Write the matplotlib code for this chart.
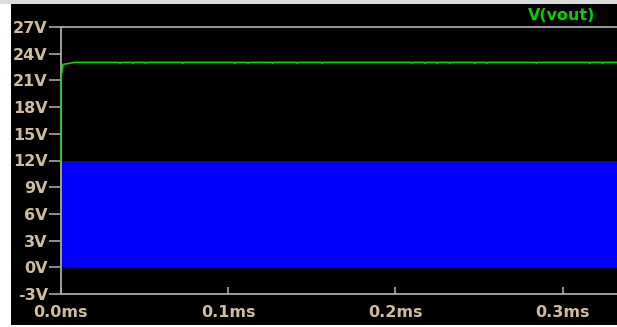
import matplotlib.pyplot as plt
from matplotlib.patches import Rectangle

# time axis in ms, voltages in V
sw_t = [0.0, 0.3325]
sw_low = [0.0, 0.0]
sw_high = [12.0, 12.0]

# V(vout) start-up, then regulated level with small ripple notches
vout_start_t = [0.0, 0.0, 0.0012, 0.0084]
vout_start_v = [12.0, 21.2, 22.8, 23.03]
vout_level = 23.03
vout_notch = 22.92
notch_t = [0.0353, 0.0429, 0.0506, 0.0727, 0.1040, 0.1118, 0.1265, 0.1412,
           0.1562, 0.2100, 0.2176, 0.2249, 0.2325, 0.2475, 0.2545, 0.2843,
           0.3162, 0.3238]
t_end = 0.3325

yticks = [-3, 0, 3, 6, 9, 12, 15, 18, 21, 24, 27]
xticks = [0.0, 0.1, 0.2, 0.3]
xlabels = ["0.0ms", "0.1ms", "0.2ms", "0.3ms"]

t = list(vout_start_t)
v = list(vout_start_v)
for tn in notch_t:
    t += [tn - 0.0005, tn, tn + 0.0005]
    v += [vout_level, vout_notch, vout_level]
t.append(t_end)
v.append(vout_level)

W, H = 617, 327
fig = plt.figure(figsize=(W / 100, H / 100), dpi=100)
fig.patch.set_facecolor("white")
# window background
fig.patches.append(Rectangle((11 / W, 2 / H), 1 - 11 / W, 1 - 6 / H,
                             transform=fig.transFigure, facecolor="black",
                             edgecolor="none", zorder=-2))
fig.patches.append(Rectangle((0, 1 - 4 / H), 1, 4 / H, transform=fig.transFigure,
                             facecolor="#dcdcdc", edgecolor="none", zorder=-2))

ax = fig.add_axes([61 / W, 1 - 294 / H, (W - 61) / W, 267 / H])
ax.set_facecolor("black")

ax.fill_between(sw_t, sw_low, sw_high, color="#0000ff", linewidth=0, zorder=2)
ax.plot(t, v, color="#00e000", linewidth=1.1, zorder=3, clip_on=False)

ax.set_xlim(0, t_end)
ax.set_ylim(-3, 27)

grey = "#a8a8a8"
for side in ["left", "top", "bottom"]:
    ax.spines[side].set_color(grey)
    ax.spines[side].set_linewidth(1.3)
ax.spines["right"].set_visible(False)

lab_color = "#d0bc9c"
ax.set_yticks(yticks)
ax.set_yticklabels([f"{y}V" for y in yticks])
ax.set_xticks(xticks)
ax.set_xticklabels(xlabels)
ax.tick_params(axis="y", direction="out", length=9, width=1.2, color=grey,
               pad=0.5, labelcolor=lab_color)
ax.tick_params(axis="x", direction="in", length=5, width=1.2, color=grey,
               pad=8, labelcolor=lab_color)
for lab in ax.get_xticklabels() + ax.get_yticklabels():
    lab.set_fontfamily("DejaVu Sans")
    lab.set_fontweight("bold")
    lab.set_fontsize(11.5)

fig.text(562 / W, 1 - 15 / H, "V(vout)", color="#00d400", fontsize=11.5,
         fontweight="bold", family="DejaVu Sans", ha="center", va="center")

fig.savefig("out.png", dpi=100, facecolor=fig.get_facecolor())
